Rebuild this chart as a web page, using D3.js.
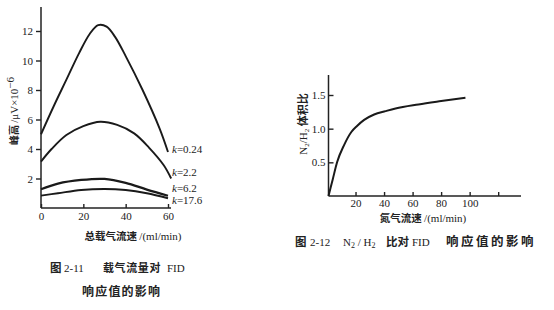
<!DOCTYPE html>
<html lang="zh">
<head>
<meta charset="utf-8">
<title>FID response charts</title>
<script src="https://d3js.org/d3.v7.min.js"></script>
<style>
  body{margin:0;background:#fff;}
  .num{font-family:"Liberation Serif",serif;font-size:11px;fill:#222;font-weight:normal;}
  .cjk{font-family:"Noto Sans CJK SC",sans-serif;font-weight:bold;fill:#222;}
  .axis path,.axis line{stroke:#222;stroke-width:1.4;}
  .axis text{font-family:"Liberation Serif",serif;font-size:11px;fill:#222;}
</style>
</head>
<body>
<div id="chart"></div>
<script>
// left chart: peak height vs total carrier flow, one curve per k
var kNames = ["k=0.24", "k=2.2", "k=6.2", "k=17.6"]
var k024 = [[0,5.0],[6,6.9],[12,8.7],[18,10.5],[23,11.8],[27,12.4],[31,12.3],[35,11.6],[40,10.3],[48,8.0],[56,5.4],[60,3.8]]
var k22  = [[0,3.15],[5,4.0],[12,4.95],[20,5.55],[28,5.85],[36,5.63],[44,5.06],[51,4.1],[58,2.9],[61.5,2.0]]
var k62  = [[0,1.27],[8,1.65],[19,1.9],[30,1.97],[40,1.7],[50,1.25],[60,0.83]]
var k176 = [[0,0.84],[8,1.0],[19,1.22],[30,1.29],[40,1.22],[50,1.0],[60,0.66]]
var leftXTicks = [0, 20, 40, 60]
var leftYTicks = [2, 4, 6, 8, 10, 12]

// right chart: N2/H2 ratio vs nitrogen flow
var ratioData = [[0,0],[3,0.25],[6,0.5],[11,0.76],[16,0.95],[20,1.04],[25,1.13],[32,1.21],[40,1.26],[47,1.3],[63,1.36],[79,1.41],[96,1.46]]
var rightXTicks = [20, 40, 60, 80, 100, 120]
var rightYTicks = [0.5, 1.0, 1.5]

var w = 554, h = 310
var svg = d3.select("#chart").append("svg").attr("width", w).attr("height", h)

//---- left chart
var x1 = d3.scaleLinear().domain([0, 60]).range([41, 168])
var y1 = d3.scaleLinear().domain([0, 12]).range([208, 31])

svg.append("line")
  .attr("x1", x1(0)).attr("x2", x1(0)).attr("y1", 7).attr("y2", y1(0))
  .attr("stroke","#222").attr("stroke-width",1.5)
svg.append("line")
  .attr("x1", x1(0)).attr("x2", 171).attr("y1", y1(0)).attr("y2", y1(0))
  .attr("stroke","#222").attr("stroke-width",1.5)

var yAx1 = svg.append("g").attr("class","axis")
  .attr("transform","translate(" + x1(0) + ",0)")
  .call(d3.axisLeft(y1).tickValues(leftYTicks).tickSize(5).tickPadding(3).tickSizeOuter(0).tickFormat(d3.format("d")))
yAx1.select(".domain").remove()

var xAx1 = svg.append("g").attr("class","axis")
  .attr("transform","translate(0," + y1(0) + ")")
  .call(d3.axisBottom(x1).tickValues(leftXTicks).tickSize(-4).tickPadding(4).tickSizeOuter(0))
xAx1.select(".domain").remove()

var line1 = d3.line().x(function(d){ return x1(d[0]) }).y(function(d){ return y1(d[1]) })
  .curve(d3.curveCatmullRom.alpha(0.5))
var leftSeries = [k024, k22, k62, k176]
svg.selectAll(".kcurve").data(leftSeries).enter().append("path")
  .attr("class","kcurve")
  .attr("d", line1)
  .attr("fill","none").attr("stroke","#1a1a1a")
  .attr("stroke-width", function(d,i){ return i == 2 ? 2.3 : 1.9 })

// k labels next to line ends
var labelY = [4.0, 2.45, 1.33, 0.55]
svg.selectAll(".klab").data(kNames).enter().append("text")
  .attr("class","num")
  .attr("x", 172)
  .attr("y", function(d,i){ return y1(labelY[i]) + 4 })
  .attr("font-size", 10.5)
  .each(function(d){
    var t = d3.select(this)
    t.append("tspan").attr("font-style","italic").text("k")
    t.append("tspan").text(d.slice(1))
  })

// y title
var yt1 = svg.append("text").attr("class","cjk")
  .attr("transform","translate(18,111) rotate(-90)")
  .attr("text-anchor","middle").attr("font-size",10)
yt1.append("tspan").text("峰高 ")
yt1.append("tspan").attr("class","num").attr("font-size",10.5).text("/μV×10")
yt1.append("tspan").attr("class","num").attr("font-size",7).attr("dy",-4).text("−6")

var xt1 = svg.append("text").attr("class","cjk")
  .attr("x",133).attr("y",240).attr("text-anchor","middle").attr("font-size",10.5)
xt1.append("tspan").text("总载气流速 ")
xt1.append("tspan").attr("class","num").text("/(ml/min)")

// caption 2-11
svg.append("text").attr("class","cjk").attr("x",50).attr("y",272).attr("font-size",11.5).text("图")
svg.append("text").attr("class","num").attr("x",64).attr("y",272).attr("font-size",13).text("2-11")
svg.append("text").attr("class","cjk").attr("x",103).attr("y",272).attr("font-size",11)
  .attr("letter-spacing",0.6).text("载气流量对")
svg.append("text").attr("class","num").attr("x",167).attr("y",272).attr("font-size",13).text("FID")
svg.append("text").attr("class","cjk")
  .attr("x",82).attr("y",296).attr("font-size",12).attr("letter-spacing",1.2)
  .text("响应值的影响")

//---- right chart
var x2 = d3.scaleLinear().domain([0, 136]).range([327, 521])
var y2 = d3.scaleLinear().domain([0, 1.5]).range([196, 95])
var ax0 = x2(0) + 1.5

svg.append("line")
  .attr("x1", ax0).attr("x2", ax0).attr("y1", 75).attr("y2", y2(0))
  .attr("stroke","#222").attr("stroke-width",1.5)
svg.append("line")
  .attr("x1", ax0).attr("x2", x2(136)).attr("y1", y2(0)).attr("y2", y2(0))
  .attr("stroke","#222").attr("stroke-width",1.5)

var yAx2 = svg.append("g").attr("class","axis")
  .attr("transform","translate(" + ax0 + ",0)")
  .call(d3.axisLeft(y2).tickValues(rightYTicks).tickSize(-5).tickPadding(3).tickFormat(d3.format(".1f")))
yAx2.select(".domain").remove()

var xAx2 = svg.append("g").attr("class","axis")
  .attr("transform","translate(0," + y2(0) + ")")
  .call(d3.axisBottom(x2).tickValues(rightXTicks).tickSize(-4).tickPadding(3)
    .tickFormat(function(d){ return d == 120 ? "" : d }))
xAx2.select(".domain").remove()

var line2 = d3.line().x(function(d){ return x2(d[0]) + 1.5 }).y(function(d){ return y2(d[1]) })
  .curve(d3.curveMonotoneX)
svg.append("path").datum(ratioData)
  .attr("d", line2)
  .attr("fill","none").attr("stroke","#1a1a1a").attr("stroke-width",2)

var yt2 = svg.append("text").attr("class","num")
  .attr("transform","translate(307,124) rotate(-90)")
  .attr("text-anchor","middle").attr("font-size",10.5)
yt2.append("tspan").text("N")
yt2.append("tspan").attr("font-size",7).attr("dy",2).text("2")
yt2.append("tspan").attr("dy",-2).text("/H")
yt2.append("tspan").attr("font-size",7).attr("dy",2).text("2")
yt2.append("tspan").attr("class","cjk").attr("dy",-2).text(" 体积比")

var xt2 = svg.append("text").attr("class","cjk")
  .attr("x",423).attr("y",222).attr("text-anchor","middle").attr("font-size",10.5)
xt2.append("tspan").text("氮气流速 ")
xt2.append("tspan").attr("class","num").text("/(ml/min)")

// caption 2-12
var cy = 246
svg.append("text").attr("class","cjk").attr("x",295).attr("y",cy).attr("font-size",11.5).text("图")
svg.append("text").attr("class","num").attr("x",310).attr("y",cy).attr("font-size",13).text("2-12")
var nh = svg.append("text").attr("class","num").attr("x",343).attr("y",cy).attr("font-size",13)
nh.append("tspan").text("N")
nh.append("tspan").attr("font-size",8).attr("dy",2).text("2")
nh.append("tspan").attr("dy",-2).text(" / H")
nh.append("tspan").attr("font-size",8).attr("dy",2).text("2")
svg.append("text").attr("class","cjk").attr("x",386).attr("y",cy).attr("font-size",11.5).text("比对")
svg.append("text").attr("class","num").attr("x",412).attr("y",cy).attr("font-size",13).text("FID")
svg.append("text").attr("class","cjk").attr("x",446).attr("y",cy).attr("font-size",12.5)
  .attr("letter-spacing",2.5).text("响应值的影响")
</script>
</body>
</html>
